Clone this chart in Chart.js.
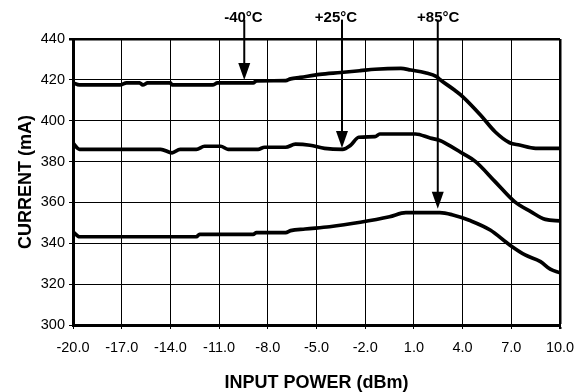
<!DOCTYPE html>
<html>
<head>
<meta charset="utf-8">
<script src="https://cdn.jsdelivr.net/npm/chart.js@4.4.0/dist/chart.umd.min.js"></script>
<style>
  body { margin: 0; background: #fff; }
  #wrap { width: 588px; height: 392px; }
</style>
</head>
<body>
<div id="wrap"><canvas id="grafik" width="588" height="392"></canvas></div>
<script>
// Input power (dBm) and current (mA) for each temperature
const powerM40 = [-20, -19.6, -17.1, -16.7, -15.9, -15.7, -15.4, -14.0, -13.9, -11.4, -11.1, -8.9, -8.7, -6.9, -6.6, -6.0, -4.8, -3.5, -2.3, -1.4, 0.2, 0.8, 1.7, 2.4, 2.6, 3.5, 4.0, 5.1, 6.0, 6.9, 7.5, 8.5, 10];
const currentM40 = [418.6, 417.5, 417.5, 418.5, 418.5, 417.5, 418.5, 418.5, 417.5, 417.5, 418.5, 418.5, 419.5, 419.6, 420.5, 421.2, 422.7, 423.6, 424.5, 425.2, 425.6, 424.8, 423.5, 421.6, 420.2, 415, 411.8, 402.8, 394.6, 389.2, 388.1, 386.5, 386.5];

const powerP25 = [-20, -19.6, -14.6, -13.9, -13.4, -12.4, -11.9, -10.9, -10.45, -8.6, -8.2, -6.9, -6.3, -5.4, -4.5, -3.4, -2.9, -2.4, -1.4, -1.1, 1.1, 2.0, 2.6, 2.9, 4.0, 4.8, 6.0, 7.2, 8.2, 9.1, 10];
const currentP25 = [389, 386, 386, 384.3, 386, 386, 387.5, 387.5, 386, 386, 387, 387, 388.5, 388, 386.5, 386, 388, 391.9, 392.2, 393.5, 393.5, 391.5, 390.3, 389.2, 384, 380, 370.2, 360.4, 355.5, 351.7, 351];

const powerP85 = [-20, -19.6, -12.4, -12.2, -8.9, -8.7, -6.9, -6.6, -5.7, -4.2, -2.3, -0.5, 0.5, 2.6, 3.35, 4.5, 5.7, 6.9, 7.85, 8.8, 9.4, 10];
const currentP85 = [345.7, 343.2, 343.2, 344.4, 344.4, 345.2, 345.2, 346.2, 347, 348.1, 350.3, 353, 355, 355, 354, 351, 346.5, 339.2, 334.3, 331, 327.3, 325.6];

// Arrow annotations
const arrowLabels = ["-40°C", "+25°C", "+85°C"];
const arrowX = [-9.45, -3.43, 2.47];
const arrowTipY = [419.9, 386.6, 356.9];
const labelX = [-9.5, -3.8, 2.5];

function toPoints(xs, ys) {
    return xs.map((x, i) => ({ x: x, y: ys[i] }));
}

const arrowPlugin = {
    id: "arrows",
    afterDatasetsDraw(chart) {
        const ctx = chart.ctx;
        const sx = chart.scales.x;
        const sy = chart.scales.y;
        ctx.save();
        ctx.fillStyle = "#000";
        ctx.strokeStyle = "#000";
        arrowLabels.forEach((lbl, i) => {
            const x = sx.getPixelForValue(arrowX[i]);
            const tip = sy.getPixelForValue(arrowTipY[i]);
            const top = sy.getPixelForValue(449.5);
            ctx.lineWidth = 2;
            ctx.beginPath();
            ctx.moveTo(x, top);
            ctx.lineTo(x, tip - 12);
            ctx.stroke();
            ctx.beginPath();
            ctx.moveTo(x, tip);
            ctx.lineTo(x - 6, tip - 17);
            ctx.lineTo(x + 6, tip - 17);
            ctx.closePath();
            ctx.fill();
            ctx.font = "bold 15px 'Liberation Sans', Arial, sans-serif";
            ctx.textAlign = "center";
            ctx.textBaseline = "middle";
            ctx.fillText(lbl, sx.getPixelForValue(labelX[i]), sy.getPixelForValue(450.4));
        });
        ctx.restore();
    }
};

const lineStyle = {
    borderColor: "#000",
    borderWidth: 3.7,
    pointRadius: 0,
    fill: false,
    cubicInterpolationMode: "monotone"
};

new Chart(document.getElementById("grafik"), {
    type: "line",
    data: {
        datasets: [
            Object.assign({ label: "-40°C", data: toPoints(powerM40, currentM40) }, lineStyle),
            Object.assign({ label: "+25°C", data: toPoints(powerP25, currentP25) }, lineStyle),
            Object.assign({ label: "+85°C", data: toPoints(powerP85, currentP85) }, lineStyle)
        ]
    },
    options: {
        responsive: false,
        animation: false,
        layout: { padding: { top: 39, right: 28, left: 0, bottom: 0 } },
        plugins: { legend: { display: false }, tooltip: { enabled: false } },
        scales: {
            x: {
                type: "linear",
                min: -20,
                max: 10,
                afterFit: s => { s.height = 67; },
                ticks: {
                    stepSize: 3,
                    color: "#000",
                    padding: 10,
                    font: { family: "'Liberation Sans', Arial, sans-serif", size: 14.5 },
                    callback: v => v.toFixed(1)
                },
                grid: {
                    color: "#000",
                    lineWidth: c => (c.tick && c.tick.value === 10 ? 2.5 : 1),
                    tickLength: 4
                },
                border: { color: "#000", width: 3 },
                title: {
                    display: true,
                    text: "INPUT POWER (dBm)",
                    color: "#000",
                    padding: { top: 6, bottom: 0 },
                    font: { family: "'Liberation Sans', Arial, sans-serif", size: 18, weight: "bold", lineHeight: 1 }
                }
            },
            y: {
                min: 300,
                max: 440,
                afterFit: s => { s.width = 73; },
                ticks: {
                    stepSize: 20,
                    color: "#000",
                    padding: 4,
                    font: { family: "'Liberation Sans', Arial, sans-serif", size: 14.5 }
                },
                grid: {
                    color: "#000",
                    lineWidth: c => (c.tick && c.tick.value === 440 ? 2.5 : 1),
                    tickLength: 4
                },
                border: { color: "#000", width: 3 },
                title: {
                    display: true,
                    text: "CURRENT (mA)",
                    color: "#000",
                    padding: { top: 17, bottom: 0 },
                    font: { family: "'Liberation Sans', Arial, sans-serif", size: 18, weight: "bold", lineHeight: 1 }
                }
            }
        }
    },
    plugins: [arrowPlugin]
});
</script>
</body>
</html>
